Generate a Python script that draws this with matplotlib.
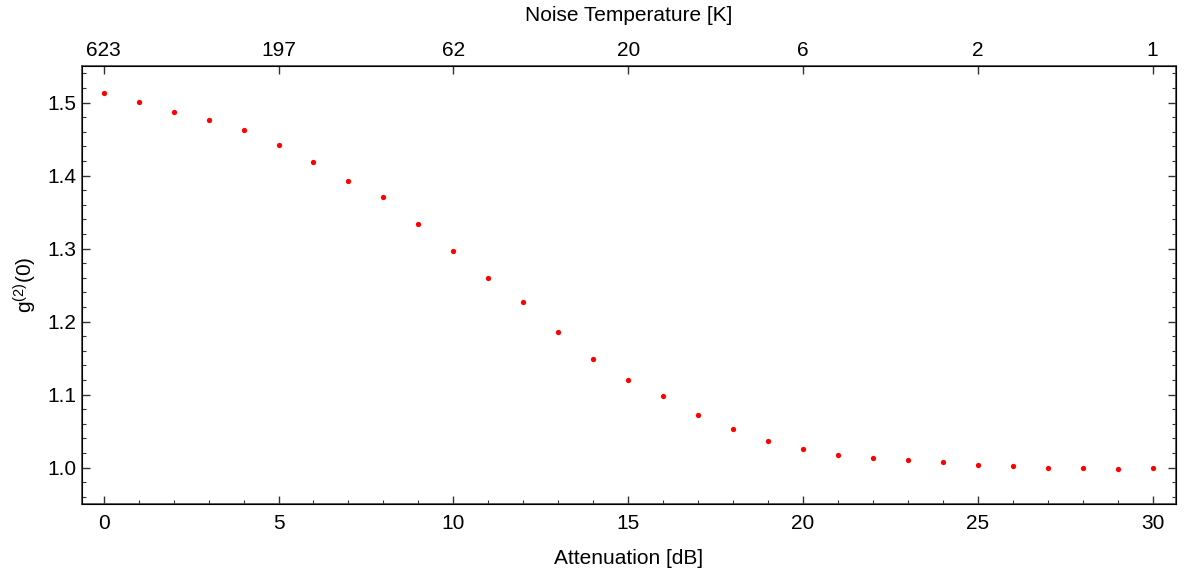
import numpy as np
import matplotlib
matplotlib.use('Agg')
import matplotlib.pyplot as plt
from matplotlib.ticker import MultipleLocator

plt.rcParams['font.family'] = ['Liberation Sans', 'DejaVu Sans']
plt.rcParams['mathtext.fontset'] = 'custom'
plt.rcParams['mathtext.rm'] = 'Liberation Sans'
plt.rcParams['mathtext.it'] = 'Liberation Sans:italic'

# Данные: затухание [дБ] и g2(0)
attenuation = np.arange(0, 31)
g2 = [1.513, 1.501, 1.487, 1.476, 1.462, 1.442, 1.419, 1.393, 1.371, 1.333,
      1.297, 1.259, 1.227, 1.185, 1.149, 1.120, 1.098, 1.072, 1.053, 1.036,
      1.025, 1.017, 1.013, 1.010, 1.007, 1.004, 1.002, 0.999, 0.9996, 0.998,
      1.000]

# Верхняя ось: шумовая температура
top_ticks = [0, 5, 10, 15, 20, 25, 30]
top_labels = ['623', '197', '62', '20', '6', '2', '1']

fs = 15

fig = plt.figure(figsize=(11.84, 5.77), dpi=100)
ax = fig.add_axes([0.0693, 0.1265, 0.9239, 0.7591])

ax.plot(attenuation, g2, 'o', color='red', markersize=3.8, markeredgewidth=0)

ax.set_xlim(-0.62, 30.67)
ax.set_ylim(0.95, 1.55)
ax.xaxis.set_major_locator(MultipleLocator(5))
ax.xaxis.set_minor_locator(MultipleLocator(1))
ax.yaxis.set_major_locator(MultipleLocator(0.1))
ax.yaxis.set_minor_locator(MultipleLocator(0.02))
ax.yaxis.set_major_formatter(plt.FormatStrFormatter('%.1f'))

ax.tick_params(which='both', direction='in', labelsize=fs, colors='#333333',
               labelcolor='black', top=False, right=True)
ax.tick_params(which='major', length=5.5, width=1)
ax.tick_params(which='minor', length=3, width=0.8)
ax.tick_params(axis='x', pad=7)
ax.tick_params(axis='y', pad=4)

ax.set_xlabel('Attenuation [dB]', fontsize=fs, labelpad=12)
ax.set_ylabel(r'$\mathrm{g}^{\mathrm{(2)}}\mathrm{(0)}$', fontsize=fs, labelpad=6)

for s in ax.spines.values():
    s.set_color('#444444')
    s.set_linewidth(1.2)

ax2 = ax.twiny()
ax2.set_xlim(ax.get_xlim())
ax2.set_xticks(top_ticks)
ax2.set_xticklabels(top_labels)
ax2.tick_params(direction='in', labelsize=fs, length=5.5, width=1,
                colors='#333333', labelcolor='black', pad=4)
ax2.set_xlabel('Noise Temperature [K]', fontsize=fs, labelpad=15)

fig.savefig('out.png', dpi=100)
